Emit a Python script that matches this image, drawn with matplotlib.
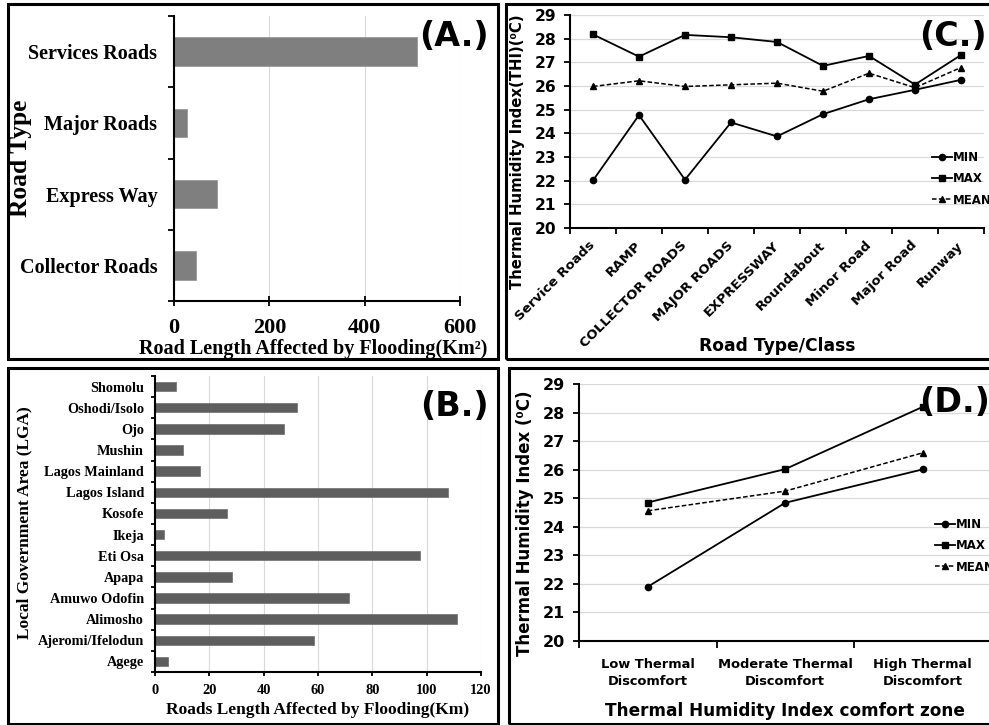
import matplotlib
matplotlib.use('Agg')
import matplotlib.pyplot as plt
from matplotlib.patches import Rectangle
import numpy as np

# Panel A: road types
road_types = ['Collector Roads', 'Express Way', 'Major Roads', 'Services Roads']
road_flooded = [46, 90, 27, 510]

# Panel B: local government areas (bottom to top)
lgas = ['Agege', 'Ajeromi/Ifelodun', 'Alimosho', 'Amuwo Odofin', 'Apapa', 'Eti Osa',
        'Ikeja', 'Kosofe', 'Lagos Island', 'Lagos Mainland', 'Mushin', 'Ojo',
        'Oshodi/Isolo', 'Shomolu']
lga_flooded = [4.8, 58.7, 111.2, 71.4, 28.3, 97.4, 3.2, 26.5, 107.7, 16.6, 10.3, 47.5, 52.1, 7.6]

# Panel C: THI per road class
road_classes = ['Service Roads', 'RAMP', 'COLLECTOR ROADS', 'MAJOR ROADS', 'EXPRESSWAY',
                'Roundabout', 'Minor Road', 'Major Road', 'Runway']
c_min = [22.01, 24.77, 22.04, 24.46, 23.87, 24.81, 25.44, 25.84, 26.26]
c_max = [28.18, 27.24, 28.16, 28.06, 27.86, 26.85, 27.27, 26.06, 27.31]
c_mean = [25.98, 26.22, 25.98, 26.05, 26.12, 25.78, 26.54, 25.93, 26.78]

# Panel D: THI comfort zones
zones = ['Low Thermal\nDiscomfort', 'Moderate Thermal\nDiscomfort', 'High Thermal\nDiscomfort']
d_min = [21.9, 24.84, 26.01]
d_max = [24.85, 26.02, 28.2]
d_mean = [24.56, 25.25, 26.59]

W, H = 989, 725
fig = plt.figure(figsize=(W / 100, H / 100), dpi=100)

SERIF = 'Liberation Serif'
SANS = 'DejaVu Sans'
GRID = '#d9d9d9'


def add_ax(l, t, r, b):
    return fig.add_axes([l / W, 1 - b / H, (r - l) / W, (b - t) / H])


def frame(l, t, r, b):
    fig.add_artist(Rectangle((l / W, 1 - b / H), (r - l) / W, (b - t) / H,
                             transform=fig.transFigure, fill=False, lw=2.2,
                             edgecolor='black', clip_on=False))


def style_spines(ax):
    for s in ['top', 'right']:
        ax.spines[s].set_visible(False)
    for s in ['left', 'bottom']:
        ax.spines[s].set_linewidth(1.5)


# ---------- (A.) ----------
axA = add_ax(174, 16, 460, 301)
yA = np.arange(len(road_types))
axA.barh(yA, road_flooded, height=0.4, color='#7f7f7f', edgecolor='#9a9a9a', lw=0.6, zorder=2)
axA.set_xlim(0, 600)
axA.set_ylim(-0.5, len(road_types) - 0.5)
axA.set_xticks([0, 200, 400, 600])
axA.set_yticks(yA)
axA.set_yticks(np.arange(-0.5, len(road_types)), minor=True)
axA.set_yticklabels(road_types, fontfamily=SERIF, fontweight='bold', fontsize=14.5)
axA.set_xticklabels([str(v) for v in [0, 200, 400, 600]], fontfamily=SERIF, fontweight='bold', fontsize=16)
axA.tick_params(axis='y', which='major', length=0, pad=12)
axA.tick_params(axis='y', which='minor', length=4, width=1.3)
axA.tick_params(axis='x', direction='inout', length=7, width=1.3, pad=9)
axA.grid(axis='x', color=GRID, lw=0.8, zorder=0)
axA.set_axisbelow(True)
style_spines(axA)
axA.set_ylabel('Road Type', fontfamily=SERIF, fontweight='bold', fontsize=18.4, va='center')
axA.yaxis.set_label_coords(-0.535, 0.502)
axA.set_xlabel('Road Length Affected by Flooding(Km²)', fontfamily=SERIF, fontweight='bold',
               fontsize=14.5, va='center')
axA.xaxis.set_label_coords(0.486, -0.167)

# ---------- (B.) ----------
axB = add_ax(155, 376, 481, 672)
yB = np.arange(len(lgas))
axB.barh(yB, lga_flooded, height=0.44, color='#5e5e5e', edgecolor='#6e6e6e', lw=0.5, zorder=2)
axB.set_xlim(0, 120)
axB.set_ylim(-0.5, len(lgas) - 0.5)
axB.set_xticks(np.arange(0, 121, 20))
axB.set_yticks(yB)
axB.set_yticks(np.arange(-0.5, len(lgas)), minor=True)
axB.set_yticklabels(lgas, fontfamily=SERIF, fontweight='bold', fontsize=10.3)
axB.set_xticklabels([str(v) for v in range(0, 121, 20)], fontfamily=SERIF, fontweight='bold', fontsize=10.4)
axB.tick_params(axis='y', which='major', length=0, pad=8)
axB.tick_params(axis='y', which='minor', length=3, width=1.3)
axB.tick_params(axis='x', length=3, width=1.3, pad=6)
axB.grid(axis='x', color=GRID, lw=0.8, zorder=0)
axB.set_axisbelow(True)
style_spines(axB)
axB.set_ylabel('Local Government Area (LGA)', fontfamily=SERIF, fontweight='bold', fontsize=12.5, va='center')
axB.yaxis.set_label_coords(-0.402, 0.503)
axB.set_xlabel('Roads Length Affected by Flooding(Km)', fontfamily=SERIF, fontweight='bold',
               fontsize=12.5, va='center')
axB.xaxis.set_label_coords(0.5, -0.128)


def thi_lines(ax, xs, mn, mx, me):
    ax.plot(xs, mn, color='black', lw=1.3, marker='o', ms=4.5, label='MIN', zorder=3)
    ax.plot(xs, mx, color='black', lw=1.3, marker='s', ms=4.2, label='MAX', zorder=3)
    ax.plot(xs, me, color='black', lw=1.1, ls=(0, (3, 1.5)), marker='^', ms=4, label='MEAN', zorder=3)
    ax.set_ylim(20, 29)
    ax.set_yticks(np.arange(20, 30))
    ax.grid(axis='y', color=GRID, lw=0.9, zorder=0)
    ax.set_axisbelow(True)
    style_spines(ax)


# ---------- (C.) ----------
axC = add_ax(570, 15, 984, 228)
xC = np.arange(len(road_classes))
thi_lines(axC, xC, c_min, c_max, c_mean)
axC.set_xlim(-0.5, len(road_classes) - 0.5)
axC.set_xticks(xC)
axC.set_xticks(np.arange(-0.5, len(road_classes)), minor=True)
axC.set_xticklabels(road_classes, rotation=45, ha='right', va='center', rotation_mode='anchor',
                    fontfamily=SANS, fontweight='bold', fontsize=9.6)
axC.set_yticklabels([str(v) for v in range(20, 30)], fontfamily=SANS, fontweight='bold', fontsize=11.2)
axC.tick_params(axis='x', which='major', length=0, pad=11)
axC.tick_params(axis='x', which='minor', length=4, width=1.3)
axC.tick_params(axis='y', length=4, width=1.3, pad=6)
axC.set_ylabel('Thermal Humidity Index(THI)(⁰C)', fontfamily=SANS, fontweight='bold', fontsize=10.7, va='center')
axC.yaxis.set_label_coords(-0.128, 0.357)
axC.set_xlabel('Road Type/Class', fontfamily=SANS, fontweight='bold', fontsize=12.3, va='center')
axC.xaxis.set_label_coords(0.5, -0.554)
axC.legend(loc='upper left', bbox_to_anchor=(932 / W, 1 - 151 / H), bbox_transform=fig.transFigure,
           frameon=False, borderpad=0, borderaxespad=0, handlelength=1.7, handletextpad=0.1,
           labelspacing=0.7, prop={'family': SANS, 'weight': 'bold', 'size': 8.5})

# ---------- (D.) ----------
axD = add_ax(579, 384, 991.5, 641)
xD = np.arange(len(zones))
thi_lines(axD, xD, d_min, d_max, d_mean)
axD.set_xlim(-0.5, len(zones) - 0.5)
axD.set_xticks(xD)
axD.set_xticks(np.arange(-0.5, len(zones)), minor=True)
axD.set_xticklabels(zones, fontfamily=SANS, fontweight='bold', fontsize=9.4, linespacing=1.45)
axD.set_yticklabels([str(v) for v in range(20, 30)], fontfamily=SANS, fontweight='bold', fontsize=11.5)
axD.tick_params(axis='x', which='major', length=0, pad=12)
axD.tick_params(axis='x', which='minor', length=5, width=1.3)
axD.tick_params(axis='y', length=4, width=1.3, pad=6)
axD.set_ylabel('Thermal Humidity Index (⁰C)', fontfamily=SANS, fontweight='bold', fontsize=12, va='center')
axD.yaxis.set_label_coords(-0.131, 0.459)
axD.set_xlabel('Thermal Humidity Index comfort zone', fontfamily=SANS, fontweight='bold', fontsize=12.2, va='center')
axD.xaxis.set_label_coords(0.4994, -0.272)
axD.legend(loc='upper left', bbox_to_anchor=(935 / W, 1 - 518 / H), bbox_transform=fig.transFigure,
           frameon=False, borderpad=0, borderaxespad=0, handlelength=1.7, handletextpad=0.1,
           labelspacing=0.7, prop={'family': SANS, 'weight': 'bold', 'size': 8.5})

# panel letters
for lbl, (px, py) in {'(A.)': (454, 36), '(C.)': (953, 36), '(B.)': (454, 406), '(D.)': (955, 403)}.items():
    fig.text(px / W, 1 - py / H, lbl, ha='center', va='center', fontfamily=SANS,
             fontweight='bold', fontsize=24)

# panel frames
frame(7.5, 4, 498, 358.5)
frame(506, 4, 995, 358.5)
frame(7.5, 367.5, 498, 723.5)
frame(508.5, 367.5, 995, 723.5)

fig.savefig('out.png', dpi=100)
